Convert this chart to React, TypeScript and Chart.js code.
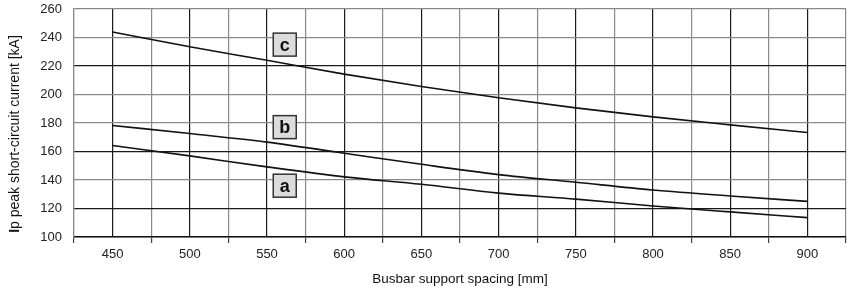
import React, { useEffect, useRef } from "react";
import { Chart, registerables } from "chart.js";

Chart.register(...registerables);

const spacing = [450, 500, 550, 600, 650, 700, 750, 800, 850, 900];
const curveA = [164.2, 156.9, 149.2, 142.2, 137.0, 130.8, 126.6, 121.8, 117.6, 113.6];
const curveB = [178.3, 172.6, 166.6, 158.8, 151.0, 143.8, 138.4, 133.0, 128.8, 125.0];
const curveC = [243.8, 233.5, 224.0, 214.3, 205.6, 197.7, 190.6, 184.3, 178.7, 173.3];
const curveLabels = ["a", "b", "c"];
const labelX = [561.5, 561.5, 561.5];
const labelY = [136, 177.1, 235];
const xTitle = "Busbar support spacing [mm]";
const yTitleBold = "I";
const yTitleRest = "p peak short-circuit current [kA]";

const FONT = "'Liberation Sans', Arial, Helvetica, sans-serif";

const overlayPlugin = {
  id: "overlay",
  afterDatasetsDraw(chart: any) {
    const ctx = chart.ctx;
    const xs = chart.scales.x;
    const ys = chart.scales.y;
    ctx.save();
    for (let i = 0; i < curveLabels.length; i++) {
      const cx = xs.getPixelForValue(labelX[i]);
      const cy = ys.getPixelForValue(labelY[i]);
      const w = 23, h = 23;
      ctx.fillStyle = "#dcdcdc";
      ctx.fillRect(cx - w / 2, cy - h / 2, w, h);
      ctx.strokeStyle = "#333";
      ctx.lineWidth = 1.5;
      ctx.strokeRect(cx - w / 2, cy - h / 2, w, h);
      ctx.fillStyle = "#111";
      ctx.font = `bold 18px ${FONT}`;
      ctx.textAlign = "center";
      ctx.textBaseline = "middle";
      ctx.fillText(curveLabels[i], cx, cy + 1);
    }
    ctx.restore();
  },
  afterDraw(chart: any) {
    const ctx = chart.ctx;
    ctx.save();
    ctx.fillStyle = "#111";
    ctx.font = `13.5px ${FONT}`;
    ctx.textAlign = "center";
    ctx.textBaseline = "middle";
    ctx.fillText(xTitle, 460, 279);
    ctx.translate(15, 134);
    ctx.rotate(-Math.PI / 2);
    ctx.font = `bold 14px ${FONT}`;
    const wb = ctx.measureText(yTitleBold).width;
    ctx.font = `14px ${FONT}`;
    const wr = ctx.measureText(yTitleRest).width;
    const total = wb + wr;
    ctx.textAlign = "left";
    ctx.font = `bold 14px ${FONT}`;
    ctx.fillText(yTitleBold, -total / 2, 0);
    ctx.font = `14px ${FONT}`;
    ctx.fillText(yTitleRest, -total / 2 + wb, 0);
    ctx.restore();
  },
};

export default function App() {
  const ref = useRef<HTMLCanvasElement | null>(null);
  useEffect(() => {
    document.body.style.margin = "0";
    const canvas = ref.current!;
    const mk = (vals: number[], label: string) => ({
      label,
      data: spacing.map((x, i) => ({ x, y: vals[i] })),
      borderColor: "#111",
      borderWidth: 1.6,
      pointRadius: 0,
      fill: false,
      cubicInterpolationMode: "monotone" as const,
    });
    const chart = new Chart(canvas, {
      type: "line",
      data: {
        datasets: [mk(curveA, "a"), mk(curveB, "b"), mk(curveC, "c")],
      },
      options: {
        animation: false,
        responsive: false,
        devicePixelRatio: 1,
        layout: { padding: { top: 9, right: 5, left: 0, bottom: 0 } },
        plugins: { legend: { display: false }, tooltip: { enabled: false } },
        scales: {
          x: {
            type: "linear",
            min: 425,
            max: 925,
            afterFit: (s: any) => {
              s.height = 52;
              s.paddingLeft = 0;
              s.paddingRight = 0;
            },
            afterBuildTicks: (s: any) => {
              const t = [];
              for (let v = 425; v <= 925; v += 25) t.push({ value: v });
              s.ticks = t;
            },
            ticks: {
              autoSkip: false,
              maxRotation: 0,
              padding: 4,
              color: "#222",
              font: { family: FONT, size: 13 },
              callback: (v: any) => (Number(v) % 50 === 0 ? String(v) : ""),
            },
            grid: {
              color: (c: any) => (c.tick && c.tick.value % 50 === 0 ? "#1a1a1a" : "#8a8a8a"),
              lineWidth: 1.2,
              tickLength: 6,
              tickColor: (c: any) => (c.tick && c.tick.value % 50 === 0 ? "rgba(0,0,0,0)" : "#444"),
            },
            border: { display: true, color: "#111", width: 1.5 },
          },
          y: {
            type: "linear",
            min: 100,
            max: 260,
            afterFit: (s: any) => {
              s.width = 74;
              s.paddingTop = 0;
              s.paddingBottom = 0;
            },
            ticks: {
              stepSize: 20,
              padding: 12,
              color: "#222",
              font: { family: FONT, size: 13 },
            },
            grid: {
              color: (c: any) =>
                c.tick && [220, 160, 120].includes(c.tick.value) ? "#1a1a1a" : "#8a8a8a",
              lineWidth: 1.2,
              drawTicks: false,
            },
            border: { display: true, color: "#8a8a8a", width: 1.2 },
          },
        },
      },
      plugins: [overlayPlugin],
    });
    return () => chart.destroy();
  }, []);
  return (
    <div style={{ position: "fixed", left: 0, top: 0, width: 851, height: 289, background: "#fff" }}>
      <canvas ref={ref} width={851} height={289} style={{ display: "block" }} />
    </div>
  );
}
